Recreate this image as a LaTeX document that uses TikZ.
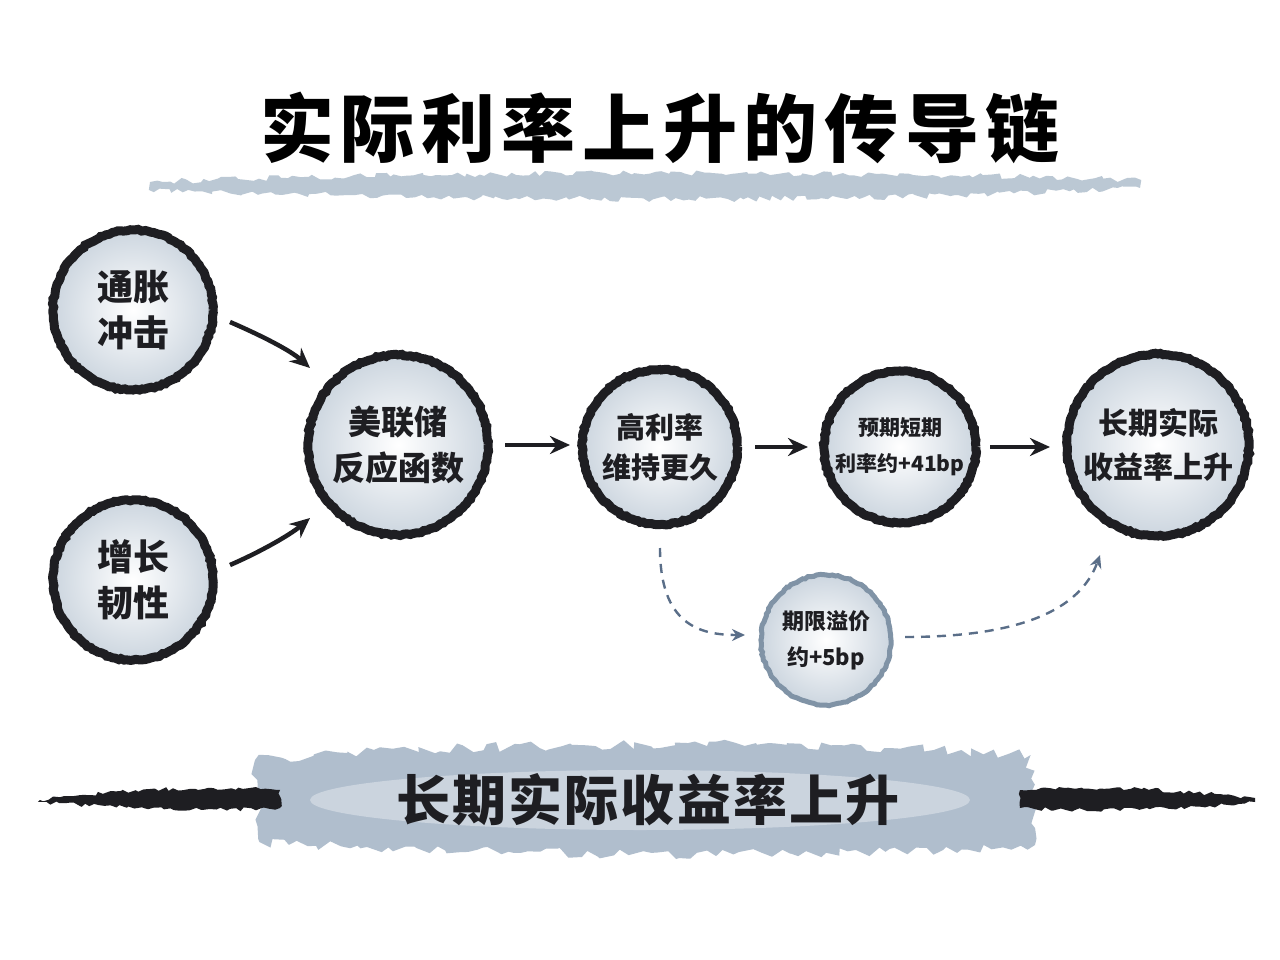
\documentclass[tikz,border=0pt]{standalone}
\usepackage{fontspec}
\newfontfamily\cjk{Noto Sans CJK SC}
\usetikzlibrary{arrows.meta,decorations.pathmorphing,calc}
\definecolor{ink}{HTML}{1E1E22}
\definecolor{mist}{HTML}{8EA3B8}
\definecolor{dashc}{HTML}{5A6E88}
\begin{document}
\begin{tikzpicture}[x=1pt,y=-1pt,
  ring/.style={circle,draw=ink,line width=9pt,inner color=white,outer color=mist!45,
    font=\cjk\bfseries,align=center,text=ink,inner sep=0pt,
    decoration={random steps,segment length=3pt,amplitude=0.8pt},decorate},
  lring/.style={ring,draw=mist!90!black,line width=5pt},
  arr/.style={-{Stealth[length=20pt,width=18pt]},line width=4.5pt,ink},
  darr/.style={-{Stealth[length=13pt,width=12pt]},line width=2.4pt,dashc,dash pattern=on 9pt off 7pt}]
\useasboundingbox[fill=white] (0,0) rectangle (1280,960);
% title
\fill[mist!60,decorate,decoration={random steps,segment length=6pt,amplitude=3pt}]
  (150,182) .. controls (500,170) and (800,170) .. (1140,180) -- (1140,188) .. controls (800,205) and (500,200) .. (150,190) -- cycle;
\node (title) at (660,128) {\cjk\bfseries\fontsize{74}{80}\selectfont\addfontfeature{LetterSpace=9} 实际利率上升的传导链};
% nodes
\node[ring,minimum size=160pt,font=\cjk\bfseries\fontsize{36}{46}\selectfont] (a) at (133,310) {通胀\\冲击};
\node[ring,minimum size=160pt,font=\cjk\bfseries\fontsize{36}{46}\selectfont] (b) at (133,580) {增长\\韧性};
\node[ring,minimum size=180pt,font=\cjk\bfseries\fontsize{33}{46}\selectfont] (c) at (398,445) {美联储\\反应函数};
\node[ring,minimum size=155pt,font=\cjk\bfseries\fontsize{29}{40}\selectfont] (d) at (660,447) {高利率\\维持更久};
\node[ring,minimum size=152pt,font=\cjk\bfseries\fontsize{21}{36}\selectfont] (e) at (900,447) {预期短期\\利率约+41bp};
\node[ring,minimum size=182pt,font=\cjk\bfseries\fontsize{30}{44}\selectfont] (f) at (1158,445) {长期实际\\收益率上升};
\node[lring,minimum size=130pt,font=\cjk\bfseries\fontsize{22}{36}\selectfont] (g) at (826,640) {期限溢价\\约+5bp};
% arrows
\coordinate (a1) at (230,322); \coordinate (c1) at (310,368);
\coordinate (b1) at (230,565); \coordinate (c2) at (310,518);
\coordinate (c3) at (505,445); \coordinate (d1) at (570,445);
\coordinate (d2) at (755,447); \coordinate (e1) at (808,447);
\coordinate (e2) at (990,447); \coordinate (f1) at (1050,447);
\coordinate (d3) at (660,548); \coordinate (g1) at (745,635);
\coordinate (g2) at (905,637); \coordinate (f2) at (1100,555);
\draw[arr] (a1) .. controls (260,335) and (290,350) .. (c1);
\draw[arr] (b1) .. controls (260,552) and (290,535) .. (c2);
\draw[arr] (c3) -- (d1);
\draw[arr] (d2) -- (e1);
\draw[arr] (e2) -- (f1);
\draw[darr] (d3) .. controls (660,625) and (700,635) .. (g1);
\draw[darr] (g2) .. controls (1020,637) and (1080,610) .. (f2);
% banner
\fill[mist!70,decorate,decoration={random steps,segment length=8pt,amplitude=5pt}]
  (255,760) .. controls (500,740) and (800,740) .. (1030,755) -- (1035,845) .. controls (800,860) and (500,855) .. (260,842) -- cycle;
\fill[white,opacity=0.35] (640,800) ellipse (330 and 30);
\fill[ink,decorate,decoration={random steps,segment length=5pt,amplitude=2pt}]
  (40,800) .. controls (120,790) and (200,785) .. (280,790) -- (280,808) .. controls (200,812) and (120,808) .. (40,802) -- cycle;
\fill[ink,decorate,decoration={random steps,segment length=5pt,amplitude=2pt}]
  (1020,790) .. controls (1100,785) and (1180,790) .. (1255,798) -- (1255,802) .. controls (1180,810) and (1100,812) .. (1020,808) -- cycle;
\node (banner) at (648,800) {\cjk\bfseries\fontsize{54}{60}\selectfont\addfontfeature{LetterSpace=4}\color{ink} 长期实际收益率上升};
\end{tikzpicture}
\end{document}
